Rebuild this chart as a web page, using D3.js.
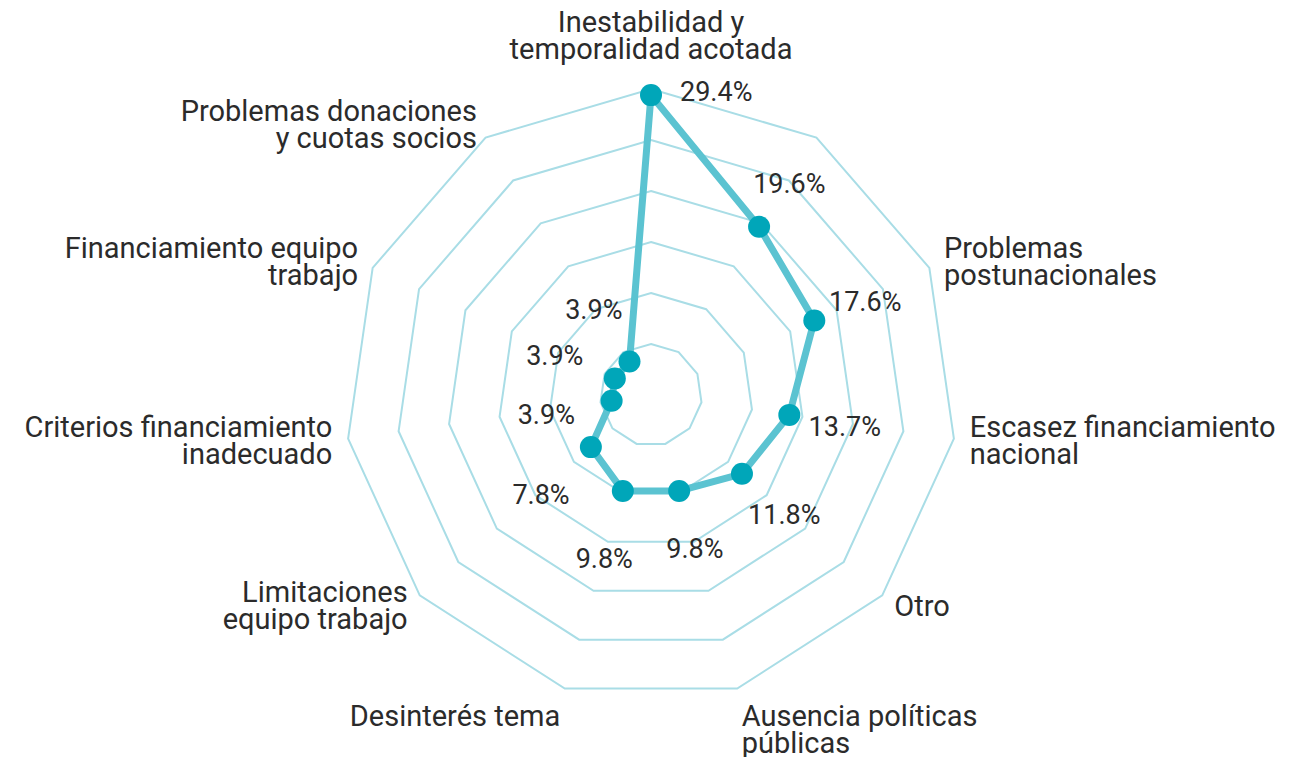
<!DOCTYPE html>
<html>
<head>
<meta charset="utf-8">
<script src="https://cdn.jsdelivr.net/npm/d3@7"></script>
<style>
  body { margin: 0; background: #fff; }
  svg text { font-family: Roboto, "Open Sans", sans-serif; fill: #2b2b2b; }
</style>
</head>
<body>
<script>
// categories go clockwise from the top; one axis has no label in the original
var categories = [
    "Inestabilidad y\ntemporalidad acotada",
    "",
    "Problemas\npostunacionales",
    "Escasez financiamiento\nnacional",
    "Otro",
    "Ausencia políticas\npúblicas",
    "Desinterés tema",
    "Limitaciones\nequipo trabajo",
    "Criterios financiamiento\ninadecuado",
    "Financiamiento equipo\ntrabajo",
    "Problemas donaciones\ny cuotas socios"
];
var values = [29.4, 19.6, 17.6, 13.7, 11.8, 9.8, 9.8, 7.8, 3.9, 3.9, 3.9];
var gridLevels = [5, 10, 15, 20, 25, 30];

var width = 1293, height = 757;
var cx = 651, cy = 395;
var outerR = 306;
var lineH = 27;

var svg = d3.select('body').append('svg')
    .attr('width', width)
    .attr('height', height);

var g = svg.append('g').attr('transform', 'translate(' + cx + ',' + cy + ')');

var n = categories.length;
var angle = d3.scaleLinear().domain([0, n]).range([0, 2 * Math.PI]);
var r = d3.scaleLinear().domain([0, 30]).range([0, outerR]);

var idx = d3.range(n);

// grid polygons
var gridLine = function (level) {
    return d3.lineRadial()
        .angle(function (i) { return angle(i); })
        .radius(function () { return r(level); })
        .curve(d3.curveLinearClosed)(idx);
};

g.selectAll('path.grid')
    .data(gridLevels)
    .enter()
    .append('path')
    .attr('class', 'grid')
    .attr('d', gridLine)
    .attr('fill', 'none')
    .attr('stroke', '#a9dde6')
    .attr('stroke-width', 2);

// data line
var dataLine = d3.lineRadial()
    .angle(function (d, i) { return angle(i); })
    .radius(function (d) { return r(d); })
    .curve(d3.curveLinearClosed);

g.append('path')
    .datum(values)
    .attr('d', dataLine)
    .attr('fill', 'none')
    .attr('stroke', '#5bc3d1')
    .attr('stroke-width', 7)
    .attr('stroke-linejoin', 'round');

function px(i, rad) { return Math.sin(angle(i)) * rad; }
function py(i, rad) { return -Math.cos(angle(i)) * rad; }

g.selectAll('circle.dot')
    .data(values)
    .enter()
    .append('circle')
    .attr('class', 'dot')
    .attr('cx', function (d, i) { return px(i, r(d)); })
    .attr('cy', function (d, i) { return py(i, r(d)); })
    .attr('r', 11)
    .attr('fill', '#00a6b9');

// value labels, pushed out along each axis
function valDist(i) { return Math.sin(angle(i)) > 0 ? 56 : 66; }

g.selectAll('text.val')
    .data(values)
    .enter()
    .append('text')
    .attr('class', 'val')
    .attr('font-size', 27)
    .attr('dy', '0.35em')
    .attr('text-anchor', function (d, i) { return i === 0 ? 'start' : 'middle'; })
    .attr('x', function (d, i) {
        if (i === 0) return px(i, r(d)) + 29;
        return px(i, r(d) + valDist(i));
    })
    .attr('y', function (d, i) {
        if (i === 0) return py(i, r(d)) - 4;
        return py(i, r(d) + valDist(i)) + 4;
    })
    .text(function (d) { return d.toFixed(1) + '%'; });

// category labels
var labelR = outerR + 16;
var cats = g.selectAll('text.cat')
    .data(categories)
    .enter()
    .append('text')
    .attr('class', 'cat')
    .attr('font-size', 29)
    .attr('text-anchor', function (d, i) {
        var s = Math.sin(angle(i));
        if (Math.abs(s) < 0.1) return 'middle';
        return s > 0 ? 'start' : 'end';
    });

cats.each(function (d, i) {
    var lines = d ? d.split('\n') : [];
    var x = px(i, labelR);
    var y = py(i, labelR);
    var c = Math.cos(angle(i));
    var first;
    if (c > 0.9) {
        first = y - 14 - (lines.length - 1) * lineH;
    } else if (c < -0.9) {
        first = y + 22;
    } else {
        first = y - (lines.length - 1) * lineH / 2 + 10;
    }
    d3.select(this).selectAll('tspan')
        .data(lines)
        .enter()
        .append('tspan')
        .attr('x', x)
        .attr('y', function (l, k) { return first + k * lineH; })
        .text(function (l) { return l; });
});
</script>
</body>
</html>
